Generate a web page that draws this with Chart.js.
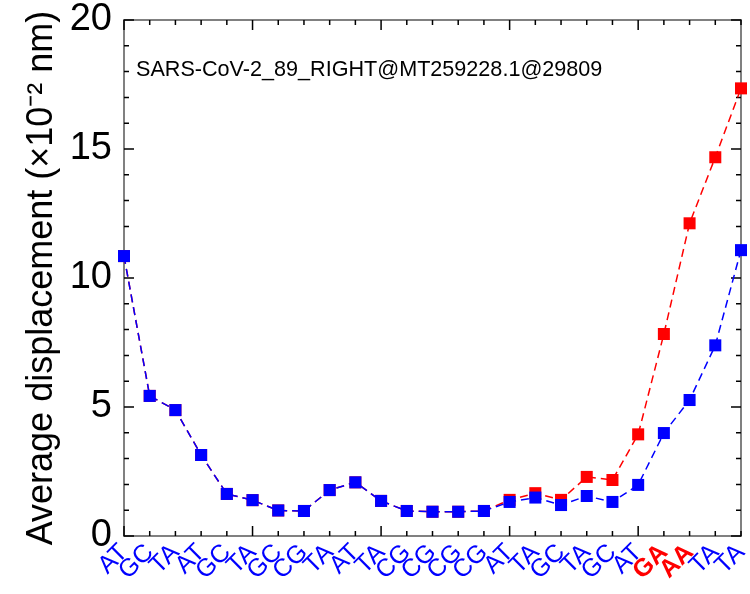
<!DOCTYPE html>
<html>
<head>
<meta charset="utf-8">
<script src="https://cdn.jsdelivr.net/npm/chart.js@4.4.1/dist/chart.umd.min.js"></script>
<style>
  html, body { margin: 0; padding: 0; background: #fff; }
  #wrap { width: 750px; height: 594px; }
</style>
</head>
<body>
<div id="wrap"><canvas id="chart" width="750" height="594"></canvas></div>
<script>
// base-pair steps along the duplex (x axis)
const basePairs = ["AT", "GC", "TA", "AT", "GC", "TA", "GC", "CG", "TA", "AT",
                   "TA", "CG", "CG", "CG", "CG", "AT", "TA", "GC", "TA", "GC",
                   "AT", "GA", "AA", "TA", "TA"]
// indices of mismatched pairs (drawn red, bold)
const mismatchIdx = [21, 22]

// average displacement, x10^-2 nm
const matchedValues = [10.85, 5.43, 4.88, 3.14, 1.63, 1.39, 0.99, 0.97, 1.78, 2.08,
                       1.36, 0.97, 0.94, 0.94, 0.97, 1.32, 1.49, 1.20, 1.55, 1.32,
                       1.98, 3.99, 5.27, 7.39, 11.08]
const mismatchValues = [10.85, 5.43, 4.88, 3.14, 1.63, 1.39, 0.99, 0.97, 1.78, 2.08,
                        1.36, 0.97, 0.94, 0.94, 0.97, 1.40, 1.66, 1.40, 2.29, 2.17,
                        3.94, 7.83, 12.12, 14.68, 17.35]

const yTicks = [0, 5, 10, 15, 20]
const seqName = "SARS-CoV-2_89_RIGHT@MT259228.1@29809"

const FONT = "'Liberation Sans', Arial, sans-serif"

// box frame with inward major/minor ticks on all four sides
const frameTicks = {
  id: "frameTicks",
  beforeDatasetsDraw(chart) {
    const { ctx, chartArea: a, scales: { x, y } } = chart
    ctx.save()
    ctx.strokeStyle = "#808080"
    ctx.lineWidth = 2
    ctx.strokeRect(a.left, a.top, a.right - a.left, a.bottom - a.top)

    ctx.strokeStyle = "#000"
    ctx.lineWidth = 1.5
    ctx.beginPath()
    basePairs.forEach((_, i) => {
      const px = x.getPixelForValue(i)
      const len = i % 5 === 0 ? 10 : 5
      ctx.moveTo(px, a.bottom); ctx.lineTo(px, a.bottom - len)
      ctx.moveTo(px, a.top); ctx.lineTo(px, a.top + len)
    })
    for (let v = y.min; v <= y.max; v++) {
      const py = y.getPixelForValue(v)
      const len = v % 5 === 0 ? 10 : 5
      ctx.moveTo(a.left, py); ctx.lineTo(a.left + len, py)
      ctx.moveTo(a.right, py); ctx.lineTo(a.right - len, py)
    }
    ctx.stroke()
    ctx.restore()
  },
  afterDraw(chart) {
    const { ctx, chartArea: a } = chart
    ctx.save()
    ctx.fillStyle = "#000"
    ctx.font = `21.6px ${FONT}`
    ctx.textBaseline = "alphabetic"
    ctx.fillText(seqName, a.left + 12, 76)
    ctx.restore()
  },
}

const isMismatch = (i) => mismatchIdx.includes(i)

new Chart(document.getElementById("chart"), {
  type: "line",
  data: {
    labels: basePairs,
    datasets: [
      {
        label: "matched",
        data: matchedValues,
        order: 0,
        borderColor: "#0000ff",
        backgroundColor: "#0000ff",
        borderWidth: 1.5,
        borderDash: [8, 5],
        pointStyle: "rect",
        pointRadius: 8.5,
        pointBorderWidth: 0,
        tension: 0,
        clip: false,
      },
      {
        label: "mismatched",
        data: mismatchValues,
        order: 1,
        borderColor: "#ff0000",
        backgroundColor: "#ff0000",
        borderWidth: 1.5,
        borderDash: [8, 5],
        pointStyle: "rect",
        pointRadius: 8.5,
        pointBorderWidth: 0,
        tension: 0,
        clip: false,
      },
    ],
  },
  options: {
    responsive: false,
    animation: false,
    layout: { padding: { left: 0, right: 9, top: 20, bottom: 0 } },
    plugins: {
      legend: { display: false },
      tooltip: { enabled: false },
    },
    scales: {
      x: {
        type: "category",
        offset: false,
        grid: { display: false, drawTicks: false },
        border: { display: false },
        afterFit: (s) => { s.height = 58; s.paddingLeft = 0; s.paddingRight = 0 },
        ticks: {
          autoSkip: false,
          minRotation: 45,
          maxRotation: 45,
          padding: 2,
          color: (c) => isMismatch(c.index) ? "#ff0000" : "#0000ff",
          font: (c) => ({ family: FONT, size: 25, weight: isMismatch(c.index) ? "bold" : "normal" }),
        },
      },
      y: {
        min: 0,
        max: 20,
        grid: { display: false, drawTicks: false },
        border: { display: false },
        afterFit: (s) => { s.width = 124; s.paddingTop = 0; s.paddingBottom = 0 },
        afterBuildTicks: (s) => { s.ticks = yTicks.map(v => ({ value: v })) },
        ticks: {
          color: "#000",
          padding: 12,
          font: { family: FONT, size: 38 },
        },
        title: {
          display: true,
          text: "Average displacement (×10⁻² nm)",
          color: "#000",
          font: { family: FONT, size: 36 },
          padding: { top: 20, bottom: 0 },
        },
      },
    },
  },
  plugins: [frameTicks],
})
</script>
</body>
</html>
